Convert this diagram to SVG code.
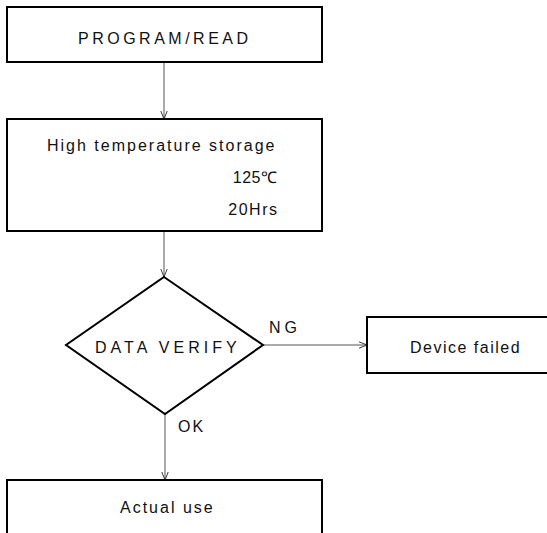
<svg xmlns="http://www.w3.org/2000/svg" width="547" height="533" viewBox="0 0 547 533">
<style>
.box{fill:#fff;stroke:#000;stroke-width:2}
.t{font-family:"Liberation Sans",Arial,sans-serif;font-size:16px;fill:#111}
.c{stroke:#555;stroke-width:1;fill:none}
</style>
<defs>
<marker id="ah" viewBox="0 0 10 10" refX="10" refY="5" markerWidth="8" markerHeight="8" orient="auto" markerUnits="userSpaceOnUse">
<path d="M0,1 L10,5 L0,9" fill="none" stroke="#333" stroke-width="1.2"/>
</marker>
</defs>
<rect width="547" height="533" fill="#fff"/>
<g id="connectors">
<line class="c" x1="164" y1="62" x2="164" y2="119" marker-end="url(#ah)"/>
<line class="c" x1="164" y1="231" x2="164" y2="277" marker-end="url(#ah)"/>
<line class="c" x1="263" y1="345" x2="367" y2="345" marker-end="url(#ah)"/>
<line class="c" x1="165" y1="414" x2="165" y2="480" marker-end="url(#ah)"/>
<text class="t" x="269" y="333" letter-spacing="4">NG</text>
<text class="t" x="178" y="432" letter-spacing="2">OK</text>
</g>
<g id="program-read">
<rect class="box" x="7" y="7" width="315" height="55"/>
<text class="t" x="78" y="44" letter-spacing="3.5">PROGRAM/READ</text>
</g>
<g id="storage">
<rect class="box" x="7" y="119" width="315" height="112"/>
<text class="t" x="47" y="151" letter-spacing="2">High temperature storage</text>
<text class="t" x="277.5" y="183" text-anchor="end" letter-spacing="0.5">125℃</text>
<text class="t" x="278.5" y="215" text-anchor="end" letter-spacing="1.5">20Hrs</text>
</g>
<g id="verify">
<polygon points="164,277 263,345 165,414 66,345" fill="#fff" stroke="#000" stroke-width="2"/>
<text class="t" x="95" y="353" letter-spacing="4">DATA VERIFY</text>
</g>
<g id="failed">
<rect class="box" x="367" y="317" width="185" height="56"/>
<text class="t" x="410" y="353" letter-spacing="1.5">Device failed</text>
</g>
<g id="actual-use">
<rect class="box" x="7" y="480" width="315" height="60"/>
<text class="t" x="120" y="513" letter-spacing="2">Actual use</text>
</g>
</svg>
